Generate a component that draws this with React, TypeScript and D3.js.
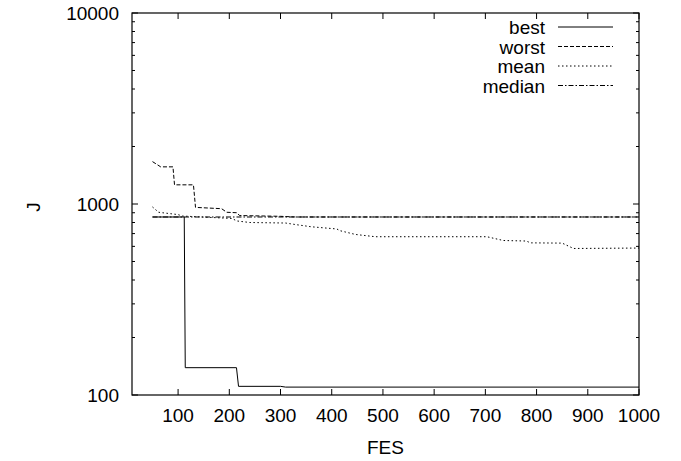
import React from "react";
import * as d3 from "d3";

const bestFes = [50, 112, 114, 214, 218, 300, 310, 1000];
const bestVal = [855, 855, 139, 139, 111, 111, 110, 110];

const worstFes = [50, 66, 90, 93, 130, 134, 185, 195, 215, 220, 300, 330, 1000];
const worstVal = [1667, 1565, 1565, 1260, 1260, 960, 945, 905, 900, 870, 862, 855, 855];

const meanFes = [50, 62, 100, 108, 205, 215, 240, 310, 330, 360, 410, 416, 446, 485, 703, 735, 780, 788, 850, 872, 1000];
const meanVal = [965, 905, 880, 865, 840, 815, 800, 795, 780, 760, 740, 725, 693, 674, 674, 644, 640, 626, 624, 585, 588];

const medianFes = [50, 1000];
const medianVal = [855, 855];

const xTicks = [100, 200, 300, 400, 500, 600, 700, 800, 900, 1000];
const yTicks = [100, 1000, 10000];
const seriesNames = ["best", "worst", "mean", "median"];

const W = 681, H = 461;
const L = 132, R = 639, T = 13, B = 395;
const FONT = "'Liberation Sans', Arial, sans-serif";
const FS = 19;

export default function App() {
  const x = d3.scaleLinear().domain([10, 1000]).range([L, R]);
  const y = d3.scaleLog().domain([100, 10000]).range([B, T]);
  const line = d3.line<[number, number]>().x(d => x(d[0])).y(d => y(d[1]));
  const mk = (f: number[], v: number[]) => f.map((fv, i) => [fv, v[i]] as [number, number]);
  const series = [
    { data: mk(bestFes, bestVal), dash: "none" },
    { data: mk(worstFes, worstVal), dash: "4,2" },
    { data: mk(meanFes, meanVal), dash: "1.5,2.5" },
    { data: mk(medianFes, medianVal), dash: "5,2,1.5,2" },
  ];
  const minor: number[] = [];
  for (let d = 100; d < 10000; d *= 10) for (let k = 2; k <= 9; k++) minor.push(d * k);

  return (
    <svg width={W} height={H} style={{ position: "absolute", left: 0, top: 0, background: "#fff" }}>
      <rect x={0} y={0} width={W} height={H} fill="#fff" />
      {xTicks.map(t => (
        <g key={"x" + t}>
          <line x1={x(t)} x2={x(t)} y1={B} y2={B - 6} stroke="#000" />
          <line x1={x(t)} x2={x(t)} y1={T} y2={T + 6} stroke="#000" />
          <text x={x(t)} y={B + 27} textAnchor="middle" fontFamily={FONT} fontSize={FS}>{t}</text>
        </g>
      ))}
      {yTicks.map(t => (
        <g key={"y" + t}>
          <line x1={L} x2={L + 6} y1={y(t)} y2={y(t)} stroke="#000" />
          <line x1={R} x2={R - 6} y1={y(t)} y2={y(t)} stroke="#000" />
          <text x={L - 13} y={y(t) + 7} textAnchor="end" fontFamily={FONT} fontSize={FS}>{t}</text>
        </g>
      ))}
      {minor.map(t => (
        <g key={"m" + t}>
          <line x1={L} x2={L + 3} y1={y(t)} y2={y(t)} stroke="#000" />
          <line x1={R} x2={R - 3} y1={y(t)} y2={y(t)} stroke="#000" />
        </g>
      ))}
      {series.map((s, i) => (
        <path key={i} d={line(s.data) || ""} fill="none" stroke="#000" strokeWidth={1} strokeDasharray={s.dash} />
      ))}
      {seriesNames.map((n, i) => {
        const yy = 27 + i * 19.5;
        return (
          <g key={n}>
            <text x={545} y={yy + 7} textAnchor="end" fontFamily={FONT} fontSize={FS}>{n}</text>
            <line x1={558} x2={613} y1={yy} y2={yy} stroke="#000" strokeDasharray={series[i].dash} />
          </g>
        );
      })}
      <rect x={L} y={T} width={R - L} height={B - T} fill="none" stroke="#000" strokeWidth={1.2} />
      <text x={(L + R) / 2} y={454} textAnchor="middle" fontFamily={FONT} fontSize={FS}>FES</text>
      <text transform={`translate(40,207) rotate(-90)`} textAnchor="middle" fontFamily={FONT} fontSize={FS}>J</text>
    </svg>
  );
}
